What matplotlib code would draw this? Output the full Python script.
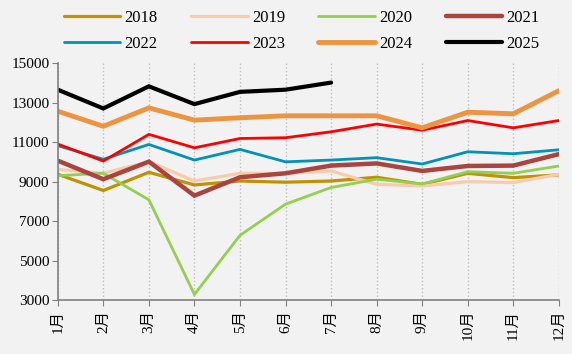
import matplotlib.pyplot as plt

months = ['1月', '2月', '3月', '4月', '5月', '6月', '7月', '8月', '9月', '10月', '11月', '12月']

y2018 = [9370, 8550, 9470, 8830, 9030, 8970, 9030, 9220, 8860, 9420, 9200, 9340]
y2019 = [9620, 9420, 10010, 9030, 9420, 9420, 9540, 8860, 8780, 9000, 8950, 9370]
y2020 = [9300, 9420, 8080, 3290, 6280, 7860, 8700, 9120, 8880, 9500, 9420, 9790]
y2021 = [10060, 9120, 10010, 8290, 9220, 9420, 9810, 9920, 9540, 9790, 9810, 10390]
y2022 = [10820, 10130, 10880, 10090, 10630, 10000, 10090, 10210, 9890, 10510, 10410, 10610]
y2023 = [10900, 10040, 11390, 10710, 11180, 11220, 11520, 11910, 11600, 12090, 11720, 12090]
y2024 = [12560, 11800, 12730, 12110, 12230, 12330, 12330, 12330, 11720, 12510, 12430, 13600]
y2025 = [13650, 12700, 13820, 12920, 13540, 13650, 14010]

series = [
    ('2018', y2018, '#C09100', 2.3),
    ('2019', y2019, '#F8CBAD', 2.3),
    ('2020', y2020, '#92D050', 2.0),
    ('2021', y2021, '#A9443F', 3.2),
    ('2022', y2022, '#0092B8', 2.0),
    ('2023', y2023, '#FF0000', 2.0),
    ('2024', y2024, '#ED9440', 3.5),
    ('2025', y2025, '#000000', 3.0),
]

plt.rcParams['font.family'] = ['Liberation Serif', 'Noto Sans CJK SC']
bg = '#F2F2F2'

fig = plt.figure(figsize=(5.72, 3.54), dpi=100, facecolor=bg)
ax = fig.add_axes([0.101, 0.152, 0.876, 0.67], facecolor=bg)

x = list(range(len(months)))
lines = []
for name, vals, color, lw in series:
    ln, = ax.plot(x[:len(vals)], vals, color=color, lw=lw, label=name,
                  solid_capstyle='round', solid_joinstyle='miter')
    lines.append(ln)

ax.set_xlim(0, 11)
ax.set_ylim(3000, 15000)
ax.set_yticks(range(3000, 15001, 2000))
ax.set_xticks(x)
ax.set_xticklabels(months, rotation=90, fontsize=11)
ax.tick_params(axis='y', labelsize=11, length=4, color='#808080', pad=2)
ax.tick_params(axis='x', length=4, color='#808080', pad=3)

ax.grid(axis='x', color='#BFBFBF', linestyle=':', lw=1)
for s in ['top', 'right']:
    ax.spines[s].set_visible(False)
for s in ['left', 'bottom']:
    ax.spines[s].set_color('#808080')
    ax.spines[s].set_linewidth(1.2)

# legend is filled row by row in the reference
order = [0, 4, 1, 5, 2, 6, 3, 7]
fig.legend([lines[i] for i in order], [lines[i].get_label() for i in order],
           loc='upper left', bbox_to_anchor=(0.085, 1.015), ncol=4, frameon=False,
           fontsize=12, handlelength=3.4, columnspacing=2.0, handletextpad=0.25,
           labelspacing=0.6)

fig.savefig('out.png', dpi=100, facecolor=bg)
